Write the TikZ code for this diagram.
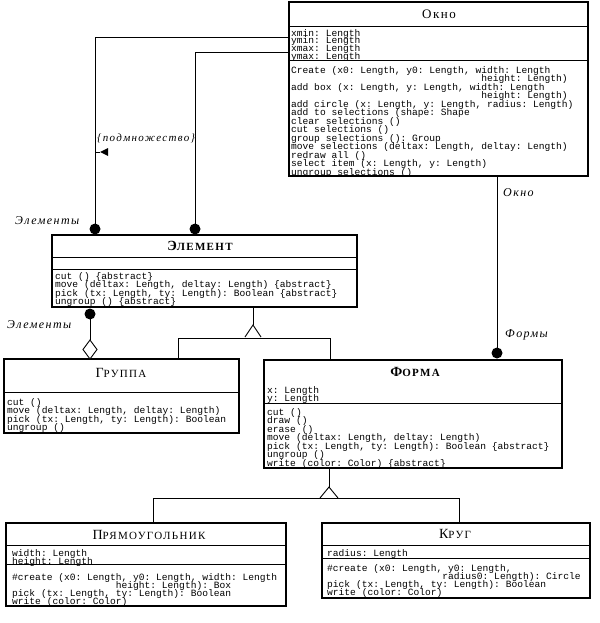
\documentclass[tikz,border=0pt]{standalone}
\usepackage{fontspec}
\setmainfont{Liberation Serif}
\setmonofont{Liberation Mono}
\newfontfamily\lblfont[LetterSpace=12]{Liberation Serif}
\newfontfamily\ttlfont[LetterSpace=12]{Liberation Serif}
\newcommand\fsc[2]{{\fontsize{14}{14}\selectfont #1}{\fontsize{11}{11}\selectfont #2}}
\newcommand\fst{\rule{0pt}{8pt}}
\begin{document}
\begin{tikzpicture}[x=1pt,y=-1pt,
  box/.style={draw, line width=1.4pt, inner sep=0pt, outer sep=0pt, anchor=north west},
  div/.style={line width=0.9pt},
  conn/.style={line width=0.9pt},
  dot/.style={circle, fill, inner sep=0pt, minimum size=11pt},
  mt/.style={font={\ttfamily\fontsize{9.6}{#1}\selectfont\lineskiplimit=-50pt\lineskip=0pt}, align=left, inner sep=0pt, anchor=north west},
  mt/.default=8.5,
  ttl/.style={font=\ttlfont, inner sep=0pt},
  lbl/.style={font={\lblfont\itshape\fontsize{12}{12}\selectfont}, inner sep=0pt, anchor=west}
]
\fill[white] (0,0) rectangle (599,623);
\useasboundingbox (0,0) rectangle (599,623);

% ---------- boxes ----------
\node[box, minimum width=299pt, minimum height=174pt] (okno) at (289,2) {};
\node[box, minimum width=305pt, minimum height=72pt] (elem) at (52,235) {};
\node[box, minimum width=235pt, minimum height=74pt] (grp) at (4,359) {};
\node[box, minimum width=298pt, minimum height=108pt] (forma) at (264,360) {};
\node[box, minimum width=280pt, minimum height=83pt] (rect) at (6,523) {};
\node[box, minimum width=268pt, minimum height=75pt] (krug) at (322,523) {};

% dividers
\foreach \n/\y in {okno/26, okno/60, elem/257, elem/269, grp/392, forma/403, rect/545, rect/564, krug/545, krug/558}
  \draw[div] (\n.west |- 0,\y) -- (\n.east |- 0,\y);

% ---------- titles ----------
\node[ttl] (t1) at (439,14) {\fontsize{13}{13}\selectfont Окно};
\node[ttl] (t2) at (200,246) {\bfseries\fsc{Э}{ЛЕМЕНТ}};
\node[ttl] (t3) at (121,373) {\fsc{Г}{РУППА}};
\node[ttl] (t4) at (415,372) {\bfseries\fsc{Ф}{ОРМА}};
\node[ttl] (t5) at (149,535) {\fsc{П}{РЯМОУГОЛЬНИК}};
\node[ttl] (t6) at (455,534) {\fsc{К}{РУГ}};

% ---------- texts ----------
\node[mt=7.8] (oa) at (291,28) {\fst xmin: Length\\ymin: Length\\xmax: Length\\ymax: Length};
\node[mt=8.5] (om) at (291,65) {\fst Create (x0: Length, y0: Length, width: Length\\
\hspace*{19.8em}height: Length)\\
add box (x: Length, y: Length, width: Length\\
\hspace*{19.8em}height: Length)\\
add circle (x: Length, y: Length, radius: Length)\\
add to selections (shape: Shape\\
clear selections ()\\
cut selections ()\\
group selections (): Group\\
move selections (deltax: Length, deltay: Length)\\
redraw all ()\\
select item (x: Length, y: Length)\\
ungroup selections ()};

\node[mt=8.2] (em) at (55,271.5) {\fst cut () \{abstract\}\\
move (deltax: Length, deltay: Length) \{abstract\}\\
pick (tx: Length, ty: Length): Boolean \{abstract\}\\
ungroup () \{abstract\}};

\node[mt=8.5] (gm) at (7,397) {\fst cut ()\\
move (deltax: Length, deltay: Length)\\
pick (tx: Length, ty: Length): Boolean\\
ungroup ()};

\node[mt=8.5] (fa) at (267,385) {\fst x: Length\\y: Length};
\node[mt=8.5] (fm) at (267,407) {\fst cut ()\\draw ()\\erase ()\\
move (deltax: Length, deltay: Length)\\
pick (tx: Length, ty: Length): Boolean \{abstract\}\\
ungroup ()\\
write (color: Color) \{abstract\}};

\node[mt=8] (ra) at (12,548) {\fst width: Length\\height: Length};
\node[mt=8] (rm) at (12,572) {\fst\#create (x0: Length, y0: Length, width: Length\\
\hspace*{10.8em}height: Length): Box\\
pick (tx: Length, ty: Length): Boolean\\
write (color: Color)};

\node[mt=8] (ka) at (327,548) {\fst radius: Length};
\node[mt=8] (km) at (327,563) {\fst\#create (x0: Length, y0: Length,\\
\hspace*{12em}radius0: Length): Circle\\
pick (tx: Length, ty: Length): Boolean\\
write (color: Color)};

% ---------- connectors ----------
% Okno -- Element (two associations)
\node[dot] (d1) at (95,229) {};
\node[dot] (d2) at (195,229) {};
\coordinate (y1) at (0,37);
\coordinate (y2) at (0,52);
\draw[conn] (d1.center) |- (okno.west |- y1);
\draw[conn] (d2.center) |- (okno.west |- y2);
\coordinate (ar) at (95,152);
\draw[conn] (ar) -- (100,152);
\fill (100,152) -- (108,148) -- (108,156) -- cycle;
\node[lbl, font={\lblfont\itshape\fontsize{11}{11}\selectfont}] (l1) at (97,138) {\{подмножество\}};
\node[lbl] (l2) at (15,221) {Элементы};

% Element -- Gruppa aggregation
\node[dot] (d3) at (90,314) {};
\coordinate (dm) at (90,340);
\draw[conn] (d3.center) -- (dm);
\draw[conn, fill=white] (dm) -- (97,349.5) -- (90,359) -- (83,349.5) -- cycle;
\node[lbl] (l3) at (7,325) {Элементы};

% generalization Element <- Gruppa, Forma
\coordinate (g1a) at (253,325);
\coordinate (g1l) at (178,338);
\coordinate (g1r) at (330,338);
\draw[conn] (elem.south -| g1a) -- (g1a);
\draw[conn] (245,337) -- (g1a) -- (261,337);
\draw[conn] (grp.north -| g1l) -- (g1l) -- (g1r) -- (forma.north -| g1r);

% generalization Forma <- Rect, Krug
\coordinate (g2a) at (329,487);
\coordinate (g2l) at (153,498);
\coordinate (g2r) at (459,498);
\draw[conn] (forma.south -| g2a) -- (g2a);
\draw[conn] (320,498) -- (g2a) -- (338,498);
\draw[conn] (rect.north -| g2l) -- (g2l) -- (g2r) -- (krug.north -| g2r);

% Okno -- Forma
\node[dot] (d4) at (497,353) {};
\draw[conn] (okno.south -| d4) -- (d4.center);
\node[lbl] (l4) at (503,193) {Окно};
\node[lbl] (l5) at (505,335) {Формы};
\end{tikzpicture}
\end{document}
